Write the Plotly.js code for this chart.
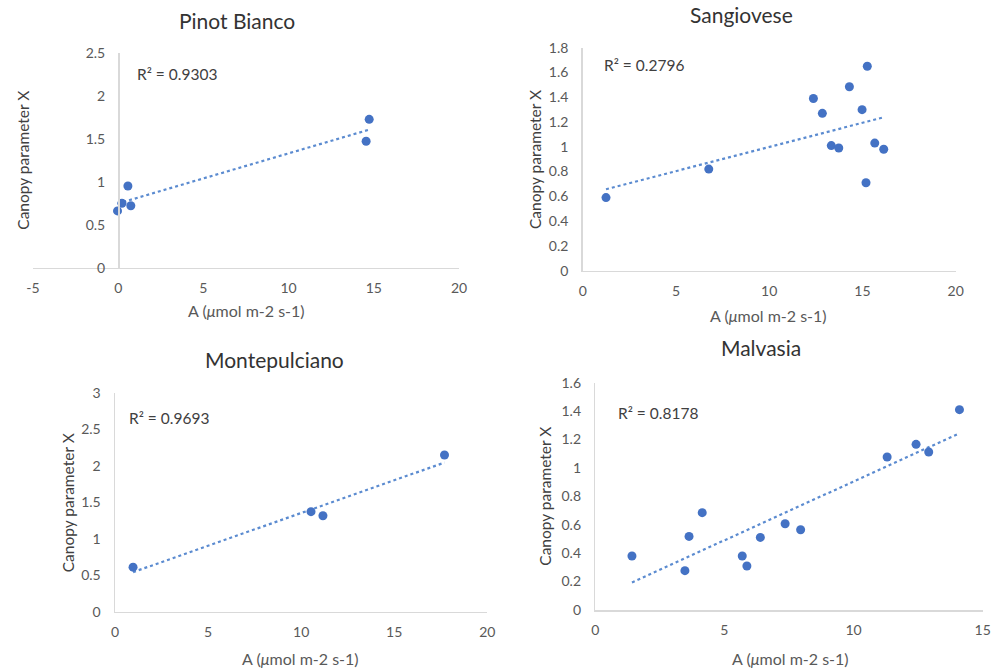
<!DOCTYPE html>
<html>
<head>
<meta charset="utf-8">
<script src="https://cdn.plot.ly/plotly-3.0.1.min.js"></script>
<style>html,body{margin:0;padding:0;background:#fff;}#chart{width:993px;height:668px;}</style>
</head>
<body>
<div id="chart"></div>
<script>
// ---- data ----
const titles = ["Pinot Bianco", "Sangiovese", "Montepulciano", "Malvasia"];
const r2Labels = ["R² = 0.9303", "R² = 0.2796", "R² = 0.9693", "R² = 0.8178"];

const pinotX = [14.73, 14.55, 0.57, 0.22, 0.74, -0.04];
const pinotY = [1.725, 1.47, 0.95, 0.75, 0.72, 0.66];

const sangX = [1.25, 6.76, 12.37, 12.85, 13.33, 13.73, 14.30, 14.98, 15.26, 15.19, 15.66, 16.14];
const sangY = [0.59, 0.82, 1.39, 1.27, 1.01, 0.99, 1.485, 1.30, 1.65, 0.71, 1.03, 0.98];

const montX = [0.97, 10.53, 11.17, 17.70];
const montY = [0.61, 1.37, 1.315, 2.146];

const malvX = [1.42, 3.47, 3.63, 4.14, 5.69, 5.87, 6.39, 7.35, 7.95, 11.30, 12.42, 12.91, 14.10];
const malvY = [0.38, 0.277, 0.518, 0.685, 0.38, 0.31, 0.511, 0.607, 0.565, 1.077, 1.166, 1.112, 1.41];

const xTicks1 = [-5, 0, 5, 10, 15, 20];
const yTicks1 = [0, 0.5, 1, 1.5, 2, 2.5];
const xTicks2 = [0, 5, 10, 15, 20];
const yTicks2 = [0, 0.2, 0.4, 0.6, 0.8, 1, 1.2, 1.4, 1.6, 1.8];
const xTicks3 = [0, 5, 10, 15, 20];
const yTicks3 = [0, 0.5, 1, 1.5, 2, 2.5, 3];
const xTicks4 = [0, 5, 10, 15];
const yTicks4 = [0, 0.2, 0.4, 0.6, 0.8, 1, 1.2, 1.4, 1.6];

const xTitle = "A (<i>μ</i>mol m-2 s-1)";
const yTitle = "Canopy parameter X";

// ---- helpers ----
const W = 993, H = 668;
const px = v => v / W;
const py = v => 1 - v / H;

function fit(xs, ys) {
  const n = xs.length;
  const mx = xs.reduce((a, b) => a + b, 0) / n;
  const my = ys.reduce((a, b) => a + b, 0) / n;
  let sxy = 0, sxx = 0;
  for (let i = 0; i < n; i++) { sxy += (xs[i] - mx) * (ys[i] - my); sxx += (xs[i] - mx) ** 2; }
  const b = sxy / sxx, a = my - b * mx;
  const x0 = Math.min(...xs), x1 = Math.max(...xs);
  return { x: [x0, x1], y: [a + b * x0, a + b * x1] };
}

const blue = "#4472C4";
const sets = [[pinotX, pinotY], [sangX, sangY], [montX, montY], [malvX, malvY]];
const traces = [];
sets.forEach((s, i) => {
  const k = i === 0 ? "" : String(i + 1);
  const f = fit(s[0], s[1]);
  traces.push({ x: f.x, y: f.y, type: "scatter", mode: "lines", xaxis: "x" + k, yaxis: "y" + k,
    line: { color: "#5B8BD0", width: 2.2, dash: "dot" }, hoverinfo: "skip", showlegend: false });
  traces.push({ x: s[0], y: s[1], type: "scatter", mode: "markers", xaxis: "x" + k, yaxis: "y" + k,
    marker: { color: blue, size: 9 }, showlegend: false });
});

const FAM = "Lato, 'Open Sans', sans-serif";
const tickFont = { family: FAM, size: 14, color: "#595959" };
const lineCol = "#d9d9d9";

function xa(dom, range, ticks, anchor) {
  return { domain: dom, range: range, tickvals: ticks, ticktext: ticks.map(String), anchor: anchor,
    showgrid: false, zeroline: false, showline: true, linecolor: lineCol, linewidth: 1.5,
    ticks: "", tickfont: tickFont, ticklabelstandoff: 7, fixedrange: true };
}
function ya(dom, range, ticks, anchor) {
  return { domain: dom, range: range, tickvals: ticks, ticktext: ticks.map(String), anchor: anchor,
    showgrid: false, zeroline: false, showline: true, linecolor: lineCol, linewidth: 1.5,
    ticks: "", tickfont: tickFont, ticklabelstandoff: 10, fixedrange: true };
}

const layout = {
  width: W, height: H,
  margin: { l: 0, r: 0, t: 0, b: 0 },
  paper_bgcolor: "#fff", plot_bgcolor: "rgba(0,0,0,0)",
  showlegend: false,
  font: { family: FAM, color: "#404040" },
  xaxis: xa([px(33), px(459)], [-5, 20], xTicks1, "y"),
  yaxis: Object.assign(ya([py(267.7), py(52.7)], [0, 2.5], yTicks1, "free"), { position: px(118) }),
  xaxis2: xa([px(582.7), px(955.7)], [0, 20], xTicks2, "y2"),
  yaxis2: ya([py(270.7), py(47.7)], [0, 1.8], yTicks2, "x2"),
  xaxis3: xa([px(115), px(487.3)], [0, 20], xTicks3, "y3"),
  yaxis3: ya([py(611.7), py(392.7)], [0, 3], yTicks3, "x3"),
  xaxis4: xa([px(595.3), px(982.7)], [0, 15], xTicks4, "y4"),
  yaxis4: ya([py(610), py(382.7)], [0, 1.6], yTicks4, "x4"),
  annotations: []
};

const titleFont = { family: FAM, size: 21, color: "#333333" };
const labFont = { family: FAM, size: 16, color: "#595959" };
const yLabFont = { family: FAM, size: 15.5, color: "#404040" };
const r2Font = { family: FAM, size: 15.5, color: "#404040" };

const titlePos = [[237, 20], [741.7, 14], [274, 359.5], [760.7, 347]];
const xTitlePos = [[246.7, 310.7], [768.7, 315], [300, 658.3], [790, 658.3]];
const yTitlePos = [[22.7, 160], [535, 160], [68.3, 503], [545, 496.7]];
const r2Pos = [[135, 74], [601.7, 65], [126.7, 418.3], [616, 412.7]];

for (let i = 0; i < 4; i++) {
  layout.annotations.push({ text: titles[i], xref: "paper", yref: "paper", x: px(titlePos[i][0]), y: py(titlePos[i][1]),
    xanchor: "center", yanchor: "middle", showarrow: false, font: titleFont });
  layout.annotations.push({ text: xTitle, xref: "paper", yref: "paper", x: px(xTitlePos[i][0]), y: py(xTitlePos[i][1]),
    xanchor: "center", yanchor: "middle", showarrow: false, font: labFont });
  layout.annotations.push({ text: yTitle, xref: "paper", yref: "paper", x: px(yTitlePos[i][0]), y: py(yTitlePos[i][1]),
    xanchor: "center", yanchor: "middle", showarrow: false, textangle: -90, font: yLabFont });
  layout.annotations.push({ text: r2Labels[i], xref: "paper", yref: "paper", x: px(r2Pos[i][0]), y: py(r2Pos[i][1]),
    xanchor: "left", yanchor: "middle", showarrow: false, font: r2Font });
}

Plotly.newPlot("chart", traces, layout, { displayModeBar: false, staticPlot: true });
</script>
</body>
</html>
